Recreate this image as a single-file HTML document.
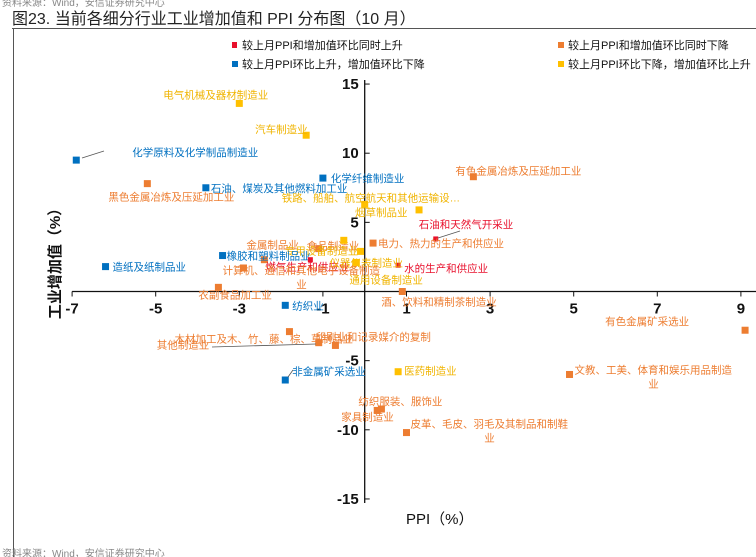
<!DOCTYPE html>
<html><head><meta charset="utf-8"><style>
body{margin:0;background:#fff;}
svg{display:block;font-family:"Liberation Sans","Noto Sans CJK SC",sans-serif;}
</style></head><body>
<svg id="chart" width="756" height="557" viewBox="0 0 756 557">
<text x="2" y="6" font-size="10" fill="#888">资料来源：Wind，安信证券研究中心</text>
<text x="12" y="24" font-size="16" fill="#222">图23. 当前各细分行业工业增加值和 PPI 分布图（10 月）</text>
<line x1="12" y1="28.5" x2="756" y2="28.5" stroke="#555" stroke-width="1"/>
<line x1="13.5" y1="28" x2="13.5" y2="557" stroke="#555" stroke-width="1"/>
<g font-size="11" fill="#111">
<g><rect x="232" y="42" width="5" height="6" fill="#e8102c"/><text x="242" y="49">较上月PPI和增加值环比同时上升</text></g>
<g><rect x="558" y="42" width="6" height="6" fill="#ed7d31"/><text x="568" y="49">较上月PPI和增加值环比同时下降</text></g>
<g><rect x="232" y="61" width="6" height="6" fill="#0070c0"/><text x="242" y="68">较上月PPI环比上升，增加值环比下降</text></g>
<g><rect x="558" y="61" width="6" height="6" fill="#ffc000"/><text x="568" y="68">较上月PPI环比下降，增加值环比上升</text></g>
</g>
<g id="axes"></g>
<g id="marks"></g>
<text x="406" y="524" font-size="15" fill="#111">PPI（%）</text>
<text transform="translate(60,260) rotate(-90)" text-anchor="middle" font-size="15" font-weight="bold" fill="#111">工业增加值（%）</text>
<text x="2" y="557" font-size="10" fill="#888">资料来源：Wind，安信证券研究中心</text>
</svg>
<script>
const names = ["化学原料及化学制品制造业","电气机械及器材制造业","汽车制造业","化学纤维制造业","石油、煤炭及其他燃料加工业","黑色金属冶炼及压延加工业","铁路、船舶、航空航天和其他运输设…","烟草制品业","有色金属冶炼及压延加工业","石油和天然气开采业","电力、热力的生产和供应业","金属制品业","食品制造业","专用设备制造业","橡胶和塑料制品业","造纸及纸制品业","燃气生产和供应业","水的生产和供应业","仪器仪表制造业","计算机、通信和其他电子设备制造|业","通用设备制造业","农副食品加工业","纺织业","酒、饮料和精制茶制造业","有色金属矿采选业","木材加工及木、竹、藤、棕、草制品业","印刷业和记录媒介的复制","其他制造业","非金属矿采选业","医药制造业","文教、工美、体育和娱乐用品制造|业","纺织服装、服饰业","家具制造业","皮革、毛皮、羽毛及其制品和制鞋|业"];
const ppi = [-6.9,-3.0,-1.4,-1.0,-3.8,-5.2,0.0,1.3,2.6,1.7,0.2,-2.4,-1.1,-0.5,-3.4,-6.2,-1.3,0.8,-0.1,-2.9,-0.2,-3.5,-1.9,0.9,9.1,-1.8,-0.7,-1.1,-1.9,0.8,4.9,0.4,0.3,1.0];
const valueAdded = [9.5,13.6,11.3,8.2,7.5,7.8,6.3,5.9,8.3,3.8,3.5,2.3,3.1,3.7,2.6,1.8,2.3,1.9,2.9,1.7,2.1,0.3,-1.0,0.0,-2.8,-2.9,-3.9,-3.7,-6.4,-5.8,-6.0,-8.5,-8.6,-10.2];
const groups = ["b","y","y","b","b","o","y","y","o","r","o","o","o","y","b","b","r","r","y","o","y","o","b","o","o","o","o","o","b","y","o","o","o","o"];
const xTicks = [-7,-5,-3,-1,1,3,5,7,9];
const yTicks = [15,10,5,-5,-10,-15];
// label placement (style only)
const labelOffsets = [[56,-4],[-76,-5],[-51,-2],[8,4],[5,4],[-39,17],[-83,-3],[-64,6],[-18,-2],[-17,-11],[5,4],[-18,-11],[-12,1],[-59,14],[4,4],[7,4],[-45,11],[6,7],[-31,15],[-21,6],[-7,21],[-20,11],[7,4],[-21,14],[-140,-5],[-115,11],[-20,-5],[-162,6],[7,-5],[6,3],[5,-1],[-23,-4],[-36,10],[4,-5]];
const colors = {r:"#e8102c",o:"#ed7d31",b:"#0070c0",y:"#ffc000"};
const textColors = {r:"#e8102c",o:"#ed7d31",b:"#0070c0",y:"#f0b400"};
const X = v => 364.7 + v * 41.8;
const Y = v => 291.5 - v * 13.83;
const NS = "http://www.w3.org/2000/svg";
const axes = document.getElementById("axes");
const marks = document.getElementById("marks");
function mk(tag, attrs, parent){const e=document.createElementNS(NS,tag);for(const k in attrs)e.setAttribute(k,attrs[k]);parent.appendChild(e);return e;}
const xl = mk("line",{x1:X(-7),y1:Y(0),x2:756,y2:Y(0),stroke:"#111","stroke-width":1.3},axes);


const yl = mk("line",{x1:X(0),y1:Y(15)-4,x2:X(0),y2:Y(-15)+4,stroke:"#111","stroke-width":1.3},axes);


xTicks.forEach(t=>{
  const tk = mk("line",{x1:X(t),y1:Y(0),x2:X(t),y2:Y(0)+5,stroke:"#111"},axes);
  
  
  const tx = mk("text",{x:X(t),y:Y(0)+22,"text-anchor":"middle","font-size":15,"font-weight":"bold",fill:"#111"},axes);
  tx.textContent = t;
  
  
});
yTicks.forEach(t=>{
  const tk = mk("line",{x1:X(0),y1:Y(t),x2:X(0)+5,y2:Y(t),stroke:"#111"},axes);
  
  
  const tx = mk("text",{x:X(0)-6,y:Y(t)+5,"text-anchor":"end","font-size":15,"font-weight":"bold",fill:"#111"},axes);
  tx.textContent = t;
  
  
});
names.forEach((n,i)=>{
  const cx = X(ppi[i]), cy = Y(valueAdded[i]);
  const s = groups[i]==="r" ? 5 : 7;
  const p = mk("rect",{x:cx-s/2,y:cy-s/2,width:s,height:s,fill:colors[groups[i]]},marks);
  
  
  const [dx,dy] = labelOffsets[i];
  const parts = n.split("|");
  const tx = mk("text",{x:cx+dx,y:cy+dy,"font-size":10.5,fill:textColors[groups[i]]},marks);
  
  
  tx.textContent = parts[0];
  if(parts[1]){
    const w = parts[0].length*10.5;
    const t2 = mk("text",{x:cx+dx+w/2-5,y:cy+dy+14,"font-size":10.5,fill:textColors[groups[i]]},marks);
    
    
    t2.textContent = parts[1];
  }
});
// leader lines
[[0,[82,158],[104,151]],[9,[438,238],[460,231]],[27,[212,347],[316,344]],[28,[288,377],[293,370]]].forEach(l=>{
  const ln = mk("line",{x1:l[1][0],y1:l[1][1],x2:l[2][0],y2:l[2][1],stroke:"#555","stroke-width":0.8},marks);
  
  
});
</script>
</body></html>
